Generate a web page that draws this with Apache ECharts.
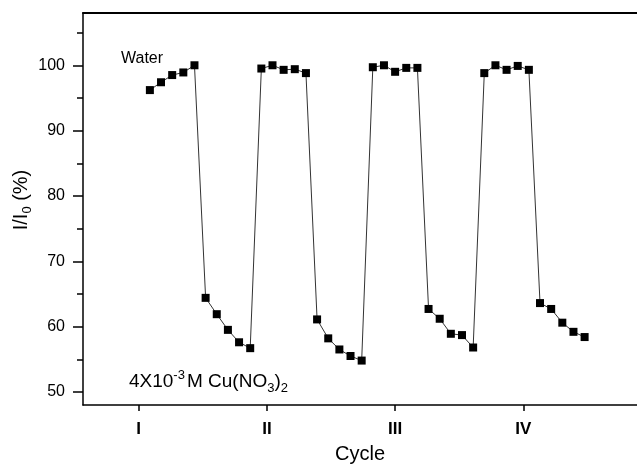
<!DOCTYPE html>
<html>
<head>
<meta charset="utf-8">
<script src="https://cdn.jsdelivr.net/npm/echarts@6/dist/echarts.min.js"></script>
<style>
html,body{margin:0;padding:0;background:#fff;}
#chart{width:637px;height:466px;}
</style>
</head>
<body>
<div id="chart"></div>
<script>
// Relative intensity I/I0 (%) for consecutive measurements, alternating water / 4x10^-3 M Cu(NO3)2
var signal = [
  96.2, 97.4, 98.5, 98.9, 100.0,
  64.4, 61.9, 59.5, 57.6, 56.7,
  99.5, 100.0, 99.3, 99.4, 98.8,
  61.1, 58.2, 56.5, 55.5, 54.8,
  99.7, 100.0, 99.0, 99.6, 99.6,
  62.7, 61.2, 58.9, 58.7, 56.8,
  98.8, 100.0, 99.3, 99.9, 99.3,
  63.6, 62.7, 60.6, 59.2, 58.4
];
var cycleTicks = [0, 11.5, 23, 34.5];
var cycleLabels = ['I', 'II', 'III', 'IV'];
var yMajor = [50, 60, 70, 80, 90, 100];
var yMinor = [55, 65, 75, 85, 95, 105];

var points = signal.map(function (v, i) { return [i + 1, v]; });
var FONT = "'Liberation Sans', Arial, Helvetica, sans-serif";

var chart = echarts.init(document.getElementById('chart'), null, {renderer: 'canvas'});
chart.setOption({
  backgroundColor: '#fff',
  animation: false,
  grid: {left: 83, top: 13, right: 0, bottom: 61, containLabel: false, outerBoundsMode: 'none'},
  xAxis: [{
    type: 'value', min: -5, max: 44.7,
    splitLine: {show: false},
    axisLine: {onZero: false, lineStyle: {color: '#000', width: 1.5}},
    axisTick: {customValues: cycleTicks, length: 6, lineStyle: {color: '#000', width: 1.5}},
    axisLabel: {
      customValues: cycleTicks, margin: 16,
      fontFamily: FONT, fontSize: 17, fontWeight: 'bold', color: '#000',
      formatter: function (v) { var k = cycleTicks.indexOf(v); return k >= 0 ? cycleLabels[k] : ''; }
    },
    name: 'Cycle', nameLocation: 'middle', nameGap: 39, nameMoveOverlap: false,
    nameTextStyle: {fontFamily: FONT, fontSize: 20, color: '#000'}
  }, {
    type: 'value', min: -5, max: 44.7, position: 'top',
    splitLine: {show: false},
    axisLine: {show: true, onZero: false, lineStyle: {color: '#000', width: 2}},
    axisTick: {show: false}, axisLabel: {show: false}
  }],
  yAxis: [{
    type: 'value', min: 48, max: 108,
    splitLine: {show: false},
    axisLine: {show: true, onZero: false, lineStyle: {color: '#000', width: 1.5}},
    axisTick: {customValues: yMajor, length: 10, lineStyle: {color: '#000', width: 1.5}},
    axisLabel: {customValues: yMajor, margin: 18, fontFamily: FONT, fontSize: 16, color: '#000'},
    name: '{a|I/I}{s|0}{a| (%)}', nameLocation: 'middle', nameGap: 49, nameMoveOverlap: false,
    nameTextStyle: {
      padding: [0, 0, 0, 18],
      rich: {
        a: {fontFamily: FONT, fontSize: 20, color: '#000', lineHeight: 26},
        s: {fontFamily: FONT, fontSize: 13, color: '#000', lineHeight: 13, verticalAlign: 'bottom'}
      }
    }
  }, {
    type: 'value', min: 48, max: 108, position: 'left',
    splitLine: {show: false},
    axisLine: {show: false, onZero: false},
    axisTick: {customValues: yMinor, length: 6, lineStyle: {color: '#000', width: 1.5}},
    axisLabel: {show: false}
  }],
  series: [{
    type: 'line',
    data: points,
    xAxisIndex: 0, yAxisIndex: 0,
    symbol: 'rect', symbolSize: 8,
    showAllSymbol: true,
    itemStyle: {color: '#000', borderWidth: 0},
    lineStyle: {color: '#333', width: 1},
    z: 3
  }],
  graphic: [{
    type: 'text', left: 121, top: 51,
    style: {text: 'Water', fontFamily: FONT, fontSize: 16, fill: '#000'}
  }, {
    type: 'text', x: 129, y: 382,
    style: {
      text: '{m|4X10}{p|-3}{m|M Cu(NO}{b|3}{m|)}{b|2}',
      verticalAlign: 'middle',
      rich: {
        m: {fontFamily: FONT, fontSize: 19, fill: '#000', lineHeight: 26},
        p: {fontFamily: FONT, fontSize: 13, fill: '#000', lineHeight: 12, verticalAlign: 'top', padding: [0, 2, 0, 0]},
        b: {fontFamily: FONT, fontSize: 13, fill: '#000', lineHeight: 14, verticalAlign: 'bottom'}
      }
    }
  }]
});
</script>
</body>
</html>
